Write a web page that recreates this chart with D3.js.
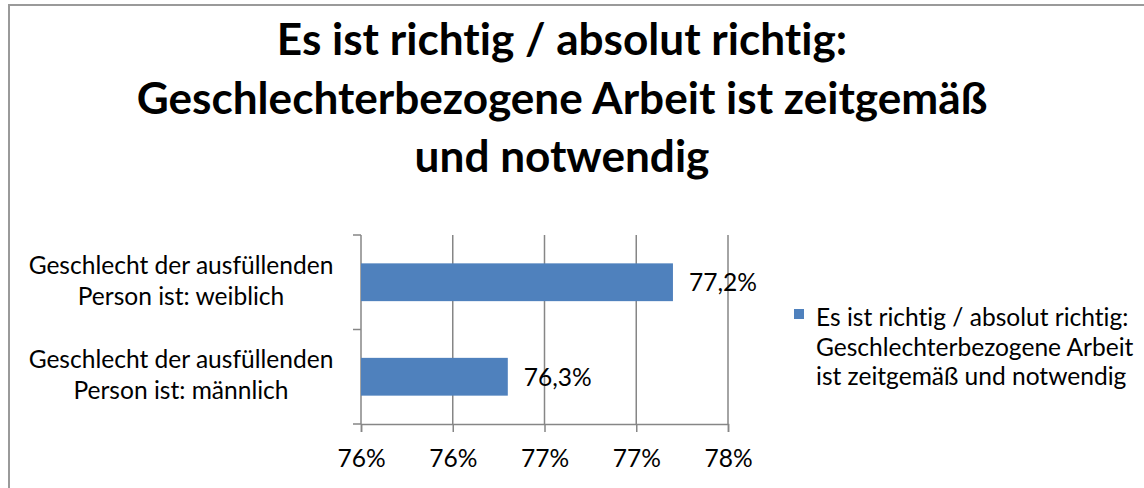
<!DOCTYPE html>
<meta charset="utf-8">
<style>
body { margin: 0; background: #fff; }
text { font-family: Lato, "Open Sans", sans-serif; fill: #000; font-variant-ligatures: none; font-feature-settings: "liga" 0, "clig" 0, "dlig" 0, "calt" 0; }
</style>
<body>
<div id="chart"></div>
<script src="https://d3js.org/d3.v7.min.js"></script>
<script>
// chart data
var titleLines = ['Es ist richtig / absolut richtig:', 'Geschlechterbezogene Arbeit ist zeitgemäß', 'und notwendig']
var categories = ['weiblich', 'männlich']
var categoryLabels = [
    ['Geschlecht der ausfüllenden', 'Person ist: weiblich'],
    ['Geschlecht der ausfüllenden', 'Person ist: männlich']
]
var values = [0.772, 0.763]
var valueLabels = ['77,2%', '76,3%']
var tickValues = [0.755, 0.76, 0.765, 0.77, 0.775]
var tickLabels = ['76%', '76%', '77%', '77%', '78%']
var legendLines = ['Es ist richtig / absolut richtig:', 'Geschlechterbezogene Arbeit', 'ist zeitgemäß und notwendig']

var width = 1144
var height = 488
var plot = { left: 361, right: 728, top: 235, bottom: 424 }
var barColor = '#4f81bd'
var gridColor = '#868686'

var svg = d3.select('#chart')
    .append('svg')
    .attr('width', width)
    .attr('height', height)

// pick a font size so that a reference string has the width seen in the original
function fitSize(text, weight, target) {
    var t = svg.append('text')
        .style('font-size', '100px')
        .style('font-weight', weight)
        .text(text)
    var w = t.node().getComputedTextLength()
    t.remove()
    return 100 * target / w
}

var titleSize = fitSize(titleLines[1], 'bold', 851)
var smallSize = fitSize(categoryLabels[0][0], 'normal', 305)

// outer frame
svg.append('rect')
    .attr('x', 9)
    .attr('y', 5)
    .attr('width', width + 20)
    .attr('height', height + 20)
    .style('fill', 'none')
    .style('stroke', '#9a9a9a')
    .style('stroke-width', 2)

// title
svg.append('g')
    .selectAll('text')
    .data(titleLines)
    .enter()
    .append('text')
    .attr('x', 562)
    .attr('y', function (d, i) { return 55 + i * 58.5 })
    .style('text-anchor', 'middle')
    .style('font-weight', 'bold')
    .style('font-size', titleSize + 'px')
    .text(function (d) { return d })

var x = d3.scaleLinear()
    .domain([tickValues[0], tickValues[tickValues.length - 1]])
    .range([plot.left, plot.right])

var y = d3.scaleBand()
    .domain(categories)
    .range([plot.top, plot.bottom])

// vertical gridlines
svg.append('g')
    .selectAll('line')
    .data(tickValues.slice(1))
    .enter()
    .append('line')
    .attr('x1', function (d) { return x(d) })
    .attr('x2', function (d) { return x(d) })
    .attr('y1', plot.top)
    .attr('y2', plot.bottom)
    .style('stroke', gridColor)
    .style('stroke-width', 1.5)

// x axis
var xAxis = d3.axisBottom(x)
    .tickValues(tickValues)
    .tickSize(8)
    .tickPadding(10)
    .tickFormat(function (d, i) { return tickLabels[i] })

var gx = svg.append('g')
    .attr('transform', 'translate(0,' + plot.bottom + ')')
    .call(xAxis)
gx.select('.domain').style('stroke', gridColor).style('stroke-width', 1.5)
gx.selectAll('.tick line').style('stroke', gridColor).style('stroke-width', 1.5)
gx.selectAll('.tick text')
    .attr('dy', null)
    .attr('y', 43)
    .style('font-family', 'Lato, sans-serif')
    .style('font-size', smallSize + 'px')
    .style('fill', '#000')

// y axis line with ticks between categories
var yAxisG = svg.append('g')
yAxisG.append('line')
    .attr('x1', plot.left)
    .attr('x2', plot.left)
    .attr('y1', plot.top)
    .attr('y2', plot.bottom)
    .style('stroke', gridColor)
    .style('stroke-width', 1.5)
yAxisG.selectAll('.ytick')
    .data([plot.top, y(categories[1]), plot.bottom])
    .enter()
    .append('line')
    .attr('class', 'ytick')
    .attr('x1', plot.left - 8)
    .attr('x2', plot.left)
    .attr('y1', function (d) { return d })
    .attr('y2', function (d) { return d })
    .style('stroke', gridColor)
    .style('stroke-width', 1.5)

// category labels
var catG = svg.append('g')
    .selectAll('g')
    .data(categories)
    .enter()
    .append('g')
catG.selectAll('text')
    .data(function (d, i) { return categoryLabels[i].map(function (t, j) { return { text: t, line: j, cat: d } }) })
    .enter()
    .append('text')
    .attr('x', 181)
    .attr('y', function (d) { return y(d.cat) + y.bandwidth() / 2 - 8.5 + d.line * 31 })
    .style('text-anchor', 'middle')
    .style('font-size', smallSize + 'px')
    .text(function (d) { return d.text })

// bars
var barH = y.bandwidth() * 0.4
svg.append('g')
    .selectAll('rect')
    .data(values)
    .enter()
    .append('rect')
    .attr('x', plot.left)
    .attr('y', function (d, i) { return y(categories[i]) + (y.bandwidth() - barH) / 2 })
    .attr('width', function (d) { return x(d) - plot.left })
    .attr('height', barH)
    .style('fill', barColor)

// value labels
svg.append('g')
    .selectAll('text')
    .data(values)
    .enter()
    .append('text')
    .attr('x', function (d) { return x(d) + 16 })
    .attr('y', function (d, i) { return y(categories[i]) + y.bandwidth() / 2 + 9 })
    .style('font-size', smallSize + 'px')
    .text(function (d, i) { return valueLabels[i] })

// legend
var legend = svg.append('g')
legend.append('rect')
    .attr('x', 794)
    .attr('y', 309)
    .attr('width', 10)
    .attr('height', 10)
    .style('fill', barColor)
legend.selectAll('text')
    .data(legendLines)
    .enter()
    .append('text')
    .attr('x', 816)
    .attr('y', function (d, i) { return 326 + i * 29.5 })
    .style('font-size', smallSize + 'px')
    .text(function (d) { return d })
</script>
</body>
